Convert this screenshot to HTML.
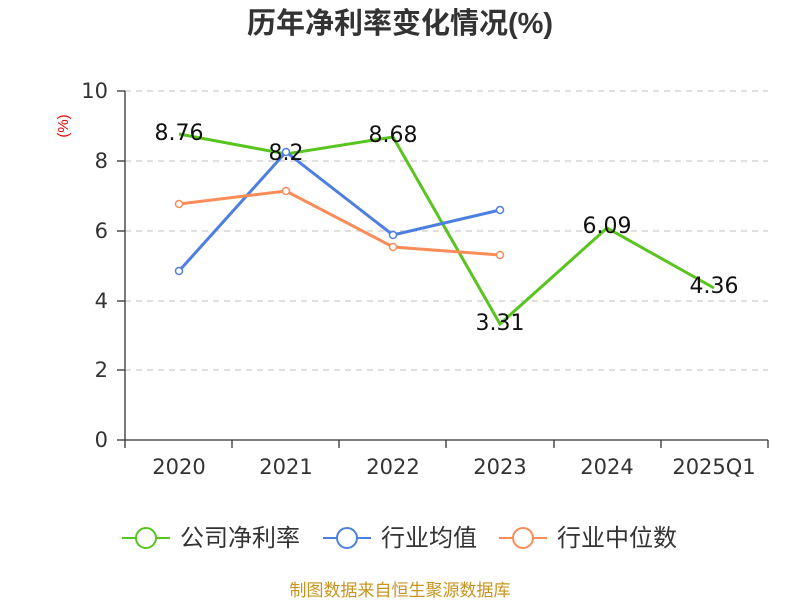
<!DOCTYPE html>
<html><head><meta charset="utf-8"><style>body{margin:0;background:#fff}svg{display:block}</style></head><body>
<svg width="800" height="600" xmlns="http://www.w3.org/2000/svg" font-family="Liberation Sans, Noto Sans CJK SC, sans-serif">
<text x="400" y="33" text-anchor="middle" font-size="29" font-weight="bold" fill="#333">历年净利率变化情况(%)</text>
<text x="68" y="126" text-anchor="middle" font-size="15" fill="#e00" transform="rotate(-90 68 126)">(%)</text>
<g stroke="#ccc" stroke-dasharray="6,5" stroke-width="1.3">
<line x1="125" y1="91" x2="768" y2="91"/><line x1="125" y1="161" x2="768" y2="161"/><line x1="125" y1="231" x2="768" y2="231"/><line x1="125" y1="301" x2="768" y2="301"/><line x1="125" y1="370" x2="768" y2="370"/>
</g>
<g stroke="#333" stroke-width="1.3">
<line x1="125" y1="91" x2="125" y2="440"/><line x1="125" y1="440" x2="768" y2="440"/>
<line x1="117" y1="91" x2="125" y2="91"/><line x1="117" y1="161" x2="125" y2="161"/><line x1="117" y1="231" x2="125" y2="231"/><line x1="117" y1="301" x2="125" y2="301"/><line x1="117" y1="370" x2="125" y2="370"/><line x1="117" y1="440" x2="125" y2="440"/>
<line x1="125" y1="440" x2="125" y2="448"/><line x1="232" y1="440" x2="232" y2="448"/><line x1="339" y1="440" x2="339" y2="448"/><line x1="446" y1="440" x2="446" y2="448"/><line x1="554" y1="440" x2="554" y2="448"/><line x1="661" y1="440" x2="661" y2="448"/><line x1="768" y1="440" x2="768" y2="448"/>
</g>
<g font-size="21" fill="#333" text-anchor="end" font-family="DejaVu Sans, sans-serif">
<text x="108" y="98">10</text><text x="108" y="168">8</text><text x="108" y="238">6</text><text x="108" y="308">4</text><text x="108" y="377">2</text><text x="108" y="447">0</text>
</g>
<g font-size="21" fill="#333" text-anchor="middle" font-family="DejaVu Sans, sans-serif">
<text x="179" y="474">2020</text><text x="286" y="474">2021</text><text x="393" y="474">2022</text><text x="500" y="474">2023</text><text x="607" y="474">2024</text><text x="714" y="474">2025Q1</text>
</g>
<polyline fill="none" stroke="#5ac41f" stroke-width="3" points="179,134 286,154 393,137 500,324 607,228 714,288"/>
<polyline fill="none" stroke="#4d7fe0" stroke-width="3" points="179,271 286,152 393,235 500,210"/>
<polyline fill="none" stroke="#fa8c5a" stroke-width="3" points="179,204 286,191 393,247 500,255"/>
<g fill="#fff" stroke-width="1.5">
<g stroke="#4d7fe0"><circle cx="179" cy="271" r="3.5"/><circle cx="286" cy="152" r="3.5"/><circle cx="393" cy="235" r="3.5"/><circle cx="500" cy="210" r="3.5"/></g>
<g stroke="#fa8c5a"><circle cx="179" cy="204" r="3.5"/><circle cx="286" cy="191" r="3.5"/><circle cx="393" cy="247" r="3.5"/><circle cx="500" cy="255" r="3.5"/></g>
</g>
<g font-size="22" fill="#111" text-anchor="middle" font-family="DejaVu Sans, sans-serif">
<text x="179" y="140">8.76</text><text x="286" y="160">8.2</text><text x="393" y="142">8.68</text><text x="500" y="330">3.31</text><text x="607" y="233">6.09</text><text x="714" y="293">4.36</text>
</g>
<g stroke-width="2" fill="#fff">
<line x1="122" y1="538" x2="170" y2="538" stroke="#5ac41f"/><circle cx="146" cy="538" r="10" stroke="#5ac41f"/>
<line x1="323" y1="538" x2="371" y2="538" stroke="#4d7fe0"/><circle cx="347" cy="538" r="10" stroke="#4d7fe0"/>
<line x1="499" y1="538" x2="547" y2="538" stroke="#fa8c5a"/><circle cx="523" cy="538" r="10" stroke="#fa8c5a"/>
</g>
<g font-size="24" fill="#333">
<text x="180" y="546">公司净利率</text><text x="381" y="546">行业均值</text><text x="557" y="546">行业中位数</text>
</g>
<text x="400" y="596" text-anchor="middle" font-size="17" fill="#c8941e">制图数据来自恒生聚源数据库</text>
</svg>
</body></html>
